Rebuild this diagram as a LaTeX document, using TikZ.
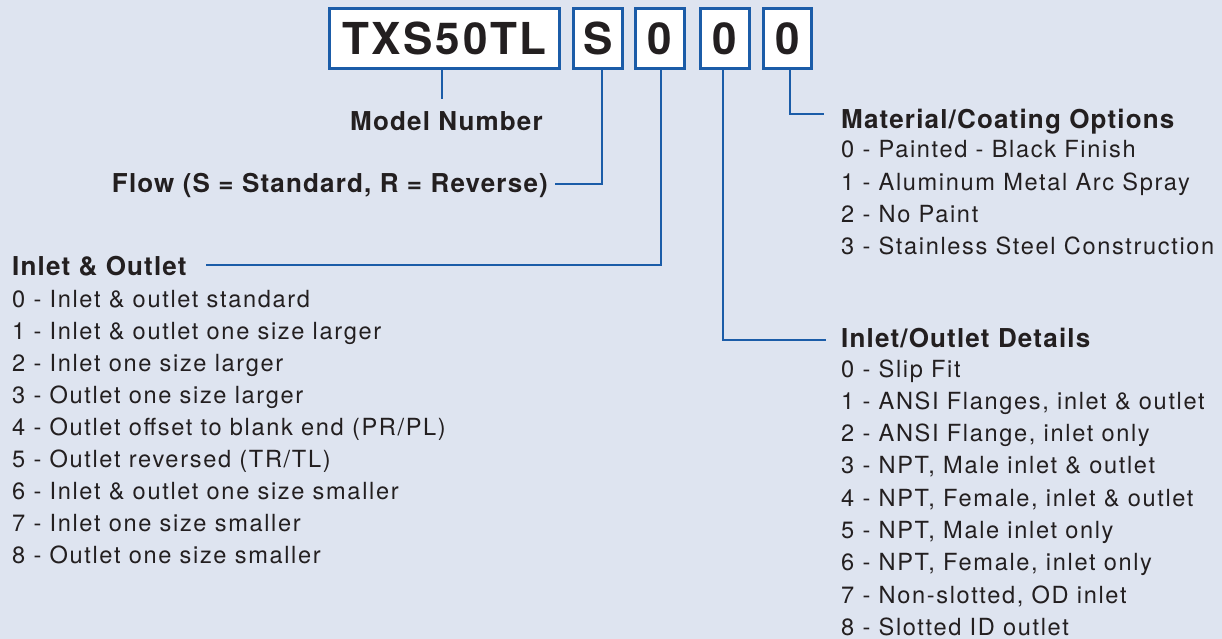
\documentclass[tikz,border=0pt]{standalone}
\usepackage{fontspec}
\setmainfont{TeX Gyre Heros}
\newfontfamily\regf[LetterSpace=7]{TeX Gyre Heros}
\newfontfamily\hdf[LetterSpace=4.5]{TeX Gyre Heros}
\newfontfamily\boxf[LetterSpace=6]{TeX Gyre Heros}
\definecolor{bg}{HTML}{DEE4F0}
\definecolor{lblue}{HTML}{1B5CA8}
\definecolor{ink}{HTML}{231F20}
\begin{document}
\begin{tikzpicture}[x=1pt,y=-1pt,
 codebox/.style={draw=lblue,line width=3pt,fill=white,inner sep=0pt,minimum height=60pt,text=ink,font=\boxf\bfseries\fontsize{44}{44}\selectfont},
 conn/.style={draw=lblue,line width=2.6pt},
 hd/.style={anchor=base west,inner sep=0pt,text=ink,font=\hdf\bfseries\fontsize{26}{30}\selectfont},
 item/.style={anchor=base west,inner sep=0pt,text=ink,font=\regf\fontsize{23.6}{27}\selectfont}]
\fill[bg] (0,0) rectangle (1222,639);
\useasboundingbox (0,0) rectangle (1222,639);

% code boxes
\node[codebox,minimum width=230pt] (m) at (444.5,38.5) {TXS50TL};
\node[codebox,minimum width=49pt] (s) at (598,38.5) {S};
\node[codebox,minimum width=49pt] (c1) at (660,38.5) {0};
\node[codebox,minimum width=49pt] (c2) at (725,38.5) {0};
\node[codebox,minimum width=48pt] (c3) at (787.5,38.5) {0};

% labels
\node[hd] (mn) at (350,131) {Model Number};
\node[hd,anchor=base east] (fl) at (548,193) {Flow (S = Standard, R = Reverse)};
\node[hd] (io) at (12,275) {Inlet \& Outlet};
\node[hd] (mt) at (841,129) {Material/Coating Options};
\node[hd] (dt) at (841,347) {Inlet/Outlet Details};

% connectors
\coordinate (mEnd) at (442,99);
\coordinate (fEnd) at (555,184);
\coordinate (ioEnd) at (206,265);
\coordinate (dEnd) at (826,340);
\coordinate (mtEnd) at (824,114);
\draw[conn] (m.south -| mEnd) -- (mEnd);
\draw[conn] ([xshift=4pt]s.south) |- (fEnd);
\draw[conn] ([xshift=1pt]c1.south) |- (ioEnd);
\draw[conn] ([xshift=-2pt]c2.south) |- (dEnd);
\draw[conn] ([xshift=2.5pt]c3.south) |- (mtEnd);

% lists
\foreach \t [count=\i from 0] in {
 {0 - Inlet \& outlet standard},
 {1 - Inlet \& outlet one size larger},
 {2 - Inlet one size larger},
 {3 - Outlet one size larger},
 {4 - Outlet offset to blank end (PR/PL)},
 {5 - Outlet reversed (TR/TL)},
 {6 - Inlet \& outlet one size smaller},
 {7 - Inlet one size smaller},
 {8 - Outlet one size smaller}}
 \node[item] (ioi\i) at (12,307+32*\i) {\t};

\foreach \t [count=\i from 0] in {
 {0 - Painted - Black Finish},
 {1 - Aluminum Metal Arc Spray},
 {2 - No Paint},
 {3 - Stainless Steel Construction}}
 \node[item] (mti\i) at (841,158+32*\i) {\t};

\foreach \t [count=\i from 0] in {
 {0 - Slip Fit},
 {1 - ANSI Flanges, inlet \& outlet},
 {2 - ANSI Flange, inlet only},
 {3 - NPT, Male inlet \& outlet},
 {4 - NPT, Female, inlet \& outlet},
 {5 - NPT, Male inlet only},
 {6 - NPT, Female, inlet only},
 {7 - Non-slotted, OD inlet},
 {8 - Slotted ID outlet}}
 \node[item] (dti\i) at (841,377+32.3*\i) {\t};
\end{tikzpicture}
\end{document}
